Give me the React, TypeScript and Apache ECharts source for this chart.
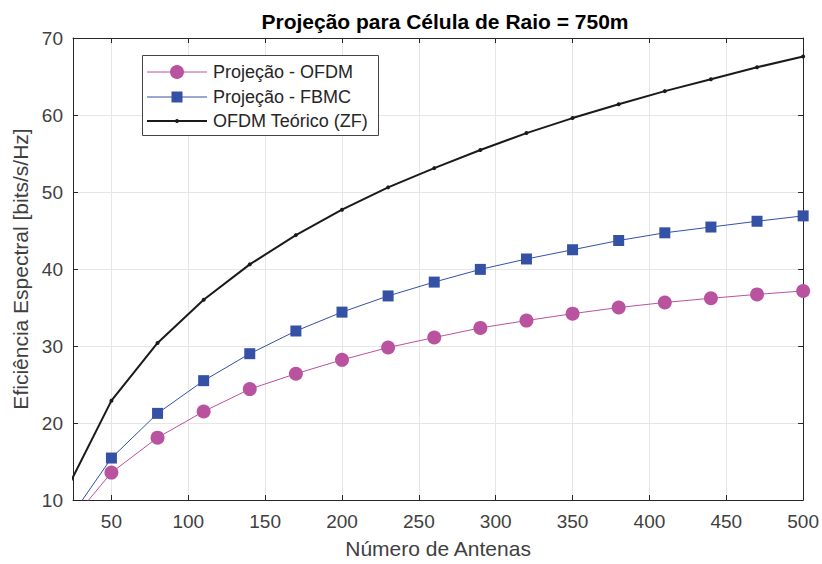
import React, { useEffect, useRef } from "react";
import * as echarts from "echarts";

const antenas = [20, 50, 80, 110, 140, 170, 200, 230, 260, 290, 320, 350, 380, 410, 440, 470, 500];
const ofdmTeorico = [11.0, 22.9, 30.4, 36.0, 40.6, 44.4, 47.7, 50.6, 53.1, 55.45, 57.65, 59.6, 61.4, 63.1, 64.65, 66.2, 67.6];
const projFBMC = [6.8, 15.45, 21.25, 25.5, 29.0, 31.95, 34.4, 36.5, 38.3, 39.95, 41.3, 42.5, 43.7, 44.7, 45.45, 46.2, 46.9];
const projOFDM = [6.35, 13.56, 18.1, 21.5, 24.4, 26.4, 28.2, 29.8, 31.1, 32.35, 33.3, 34.2, 35.0, 35.65, 36.2, 36.7, 37.15];
const xTicks = [50, 100, 150, 200, 250, 300, 350, 400, 450, 500];
const seriesNames = ["Projeção - OFDM", "Projeção - FBMC", "OFDM Teórico (ZF)"];
const titleText = "Projeção para Célula de Raio = 750m";

const PINK = "#B953A0";
const BLUE = "#3451A6";
const BLACK = "#1a1a1a";
const FONT = "'Liberation Sans', Arial, Helvetica, sans-serif";
const AXIS = "#262626";
const LABEL = "#404040";

export default function App() {
  const ref = useRef<HTMLDivElement>(null);
  useEffect(() => {
    if (!ref.current) return;
    const chart = echarts.init(ref.current, undefined, { renderer: "svg" });
    const pair = (ys: number[]) => antenas.map((x, i) => [x, ys[i]]);
    const legendRow = (i: number, y: number, color: string, symbol: any, lw: number) => [
      { type: "line", shape: { x1: 147, y1: y, x2: 207, y2: y }, style: { stroke: color, lineWidth: lw }, z: 101 },
      { ...symbol, z: 102 },
      {
        type: "text",
        x: 213,
        y,
        style: { text: seriesNames[i], font: `18px ${FONT}`, fill: AXIS, verticalAlign: "middle" },
        z: 102,
      },
    ];
    chart.setOption({
      animation: false,
      backgroundColor: "#ffffff",
      textStyle: { fontFamily: FONT },
      title: {
        text: titleText,
        left: 440,
        textAlign: "center",
        top: 6,
        textStyle: { fontSize: 21, fontWeight: "bold", color: "#000", fontFamily: FONT },
      },
      grid: { left: 73, right: 15, top: 38, bottom: 61, containLabel: false },
      xAxis: [
        {
          type: "value",
          min: 25,
          max: 500,
          position: "bottom",
          name: "Número de Antenas",
          nameLocation: "middle",
          nameGap: 38,
          nameTextStyle: { fontSize: 21, color: LABEL, fontFamily: FONT },
          axisLine: { show: true, onZero: false, lineStyle: { color: AXIS, width: 1 } },
          axisTick: { show: true, inside: true, length: 5, customValues: xTicks, lineStyle: { color: AXIS } },
          axisLabel: { customValues: xTicks, fontSize: 19, color: LABEL, margin: 12, fontFamily: FONT },
          splitLine: { show: true, lineStyle: { color: "#e6e6e6", width: 1 } },
        },
        {
          type: "value",
          min: 25,
          max: 500,
          position: "top",
          axisLine: { show: true, onZero: false, lineStyle: { color: AXIS, width: 1 } },
          axisTick: { show: true, inside: true, length: 5, customValues: xTicks, lineStyle: { color: AXIS } },
          axisLabel: { show: false },
          splitLine: { show: false },
        },
      ],
      yAxis: [
        {
          type: "value",
          min: 10,
          max: 70,
          interval: 10,
          position: "left",
          name: "Eficiência Espectral [bits/s/Hz]",
          nameLocation: "middle",
          nameGap: 33,
          nameTextStyle: { fontSize: 21, color: LABEL, fontFamily: FONT },
          axisLine: { show: true, onZero: false, lineStyle: { color: AXIS, width: 1 } },
          axisTick: { show: true, inside: true, length: 5, lineStyle: { color: AXIS } },
          axisLabel: { fontSize: 19, color: LABEL, margin: 10, fontFamily: FONT },
          splitLine: { show: true, lineStyle: { color: "#e6e6e6", width: 1 } },
        },
        {
          type: "value",
          min: 10,
          max: 70,
          interval: 10,
          position: "right",
          axisLine: { show: true, onZero: false, lineStyle: { color: AXIS, width: 1 } },
          axisTick: { show: true, inside: true, length: 5, lineStyle: { color: AXIS } },
          axisLabel: { show: false },
          splitLine: { show: false },
        },
      ],
      series: [
        {
          name: seriesNames[0],
          type: "line",
          data: pair(projOFDM),
          symbol: "circle",
          symbolSize: 14,
          lineStyle: { color: PINK, width: 1 },
          itemStyle: { color: PINK },
          clip: true,
          z: 3,
        },
        {
          name: seriesNames[1],
          type: "line",
          data: pair(projFBMC),
          symbol: "rect",
          symbolSize: 11,
          lineStyle: { color: BLUE, width: 1 },
          itemStyle: { color: BLUE },
          clip: true,
          z: 4,
        },
        {
          name: seriesNames[2],
          type: "line",
          data: pair(ofdmTeorico),
          symbol: "circle",
          symbolSize: 4,
          lineStyle: { color: BLACK, width: 2 },
          itemStyle: { color: BLACK },
          clip: true,
          z: 5,
        },
      ],
      graphic: [
        {
          type: "rect",
          shape: { x: 142.5, y: 55.5, width: 236, height: 80 },
          style: { fill: "#ffffff", stroke: "#444", lineWidth: 1 },
          z: 100,
        },
        ...legendRow(0, 72, PINK, { type: "circle", shape: { cx: 177, cy: 72, r: 7 }, style: { fill: PINK } }, 1),
        ...legendRow(1, 97, BLUE, { type: "rect", shape: { x: 171.5, y: 91.5, width: 11, height: 11 }, style: { fill: BLUE } }, 1),
        ...legendRow(2, 121, BLACK, { type: "circle", shape: { cx: 177, cy: 121, r: 2 }, style: { fill: BLACK } }, 2),
      ],
    });
    return () => chart.dispose();
  }, []);
  return <div ref={ref} style={{ width: 822, height: 564, position: "fixed", left: 0, top: 0 }} />;
}
